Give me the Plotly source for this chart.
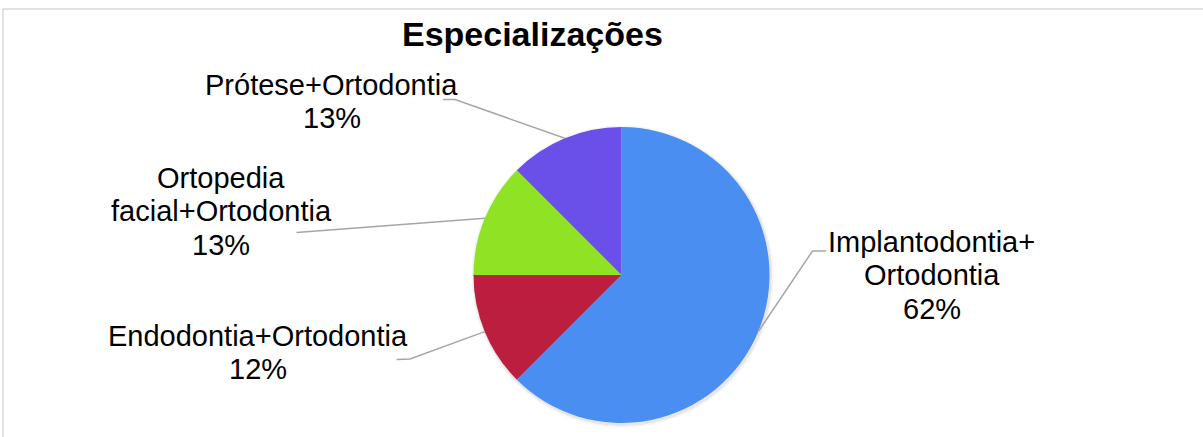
import math
import plotly.graph_objects as go

# ---- data ----
categories = ["Implantodontia+Ortodontia", "Endodontia+Ortodontia",
              "Ortopedia facial+Ortodontia", "Prótese+Ortodontia"]
values = [62.5, 12.5, 12.5, 12.5]
pct_labels = ["62%", "12%", "13%", "13%"]
label_lines = [["Implantodontia+", "Ortodontia"],
               ["Endodontia+Ortodontia"],
               ["Ortopedia", "facial+Ortodontia"],
               ["Prótese+Ortodontia"]]
colors = ["#4A8EF2", "#BC1E3F", "#8FE324", "#6A4FE8"]
title_text = "Especializações"

# ---- layout constants (pixels) ----
W, H = 1203, 437
CX, CY, R = 621.5, 275.0, 148.0
FONT = "Liberation Sans, Arial, sans-serif"
FS = 29
LINE_H = 33.5
# label block: center x, baseline of first line; leader: label end point, elbow point
label_pos = [
    dict(cx=931.5, base=252, end=(826, 251), elbow=(812.5, 251)),
    dict(cx=258, base=346, end=(396.5, 359.5), elbow=(410, 359)),
    dict(cx=221, base=188, end=(296.5, 232.5), elbow=None),
    dict(cx=331.5, base=95, end=(443, 99.5), elbow=(455, 99.5)),
]


def px(x):
    return x / W


def py(y):
    return 1 - y / H


fig = go.Figure()
fig.add_trace(go.Pie(
    labels=categories, values=values, sort=False, direction="clockwise",
    rotation=0, textinfo="none", hoverinfo="label+percent",
    marker=dict(colors=colors, line=dict(width=0)),
    domain=dict(x=[px(CX - R), px(CX + R)], y=[py(CY + R), py(CY - R)]),
    showlegend=False,
))

shapes = []
annotations = []

# frame
shapes.append(dict(type="line", xref="paper", yref="paper", x0=px(3), x1=px(W + 5),
                   y0=py(9), y1=py(9), line=dict(color="#D9D9D9", width=1.5)))
shapes.append(dict(type="line", xref="paper", yref="paper", x0=px(3), x1=px(3),
                   y0=py(9), y1=py(H + 5), line=dict(color="#D9D9D9", width=1.5)))
# soft shadow
for dr, op in [(3, 0.04), (1.5, 0.06)]:
    shapes.append(dict(type="circle", xref="paper", yref="paper", layer="below",
                       x0=px(CX - R - dr + 1), x1=px(CX + R + dr + 1),
                       y0=py(CY + R + dr + 1.5), y1=py(CY - R - dr + 1.5),
                       fillcolor=f"rgba(0,0,0,{op})", line=dict(width=0)))

# leader lines + labels, anchored at slice mid-angles
total = sum(values)
cum = 0.0
for i, v in enumerate(values):
    mid = (cum + v / 2) / total * 2 * math.pi
    cum += v
    ex = CX + R * math.sin(mid)
    ey = CY - R * math.cos(mid)
    lp = label_pos[i]
    pts = [lp["end"]]
    if lp["elbow"]:
        pts.append(lp["elbow"])
    pts.append((ex, ey))
    path = "M " + " L ".join(f"{px(a):.5f},{py(b):.5f}" for a, b in pts)
    shapes.append(dict(type="path", xref="paper", yref="paper", path=path,
                       line=dict(color="#A6A6A6", width=1.5)))
    lines = label_lines[i] + [pct_labels[i]]
    for k, t in enumerate(lines):
        base = lp["base"] + k * LINE_H
        annotations.append(dict(
            text=t, xref="paper", yref="paper", x=px(lp["cx"]),
            y=py(base - 0.35 * FS), xanchor="center", yanchor="middle",
            showarrow=False, font=dict(family=FONT, size=FS, color="#000000")))

# title
annotations.append(dict(text=f"<b>{title_text}</b>", xref="paper", yref="paper",
                        x=px(532), y=py(46 - 0.35 * 34), xanchor="center", yanchor="middle",
                        showarrow=False,
                        font=dict(family=FONT, size=34, color="#000000")))

fig.update_layout(
    width=W, height=H, margin=dict(l=0, r=0, t=0, b=0),
    paper_bgcolor="white", plot_bgcolor="white",
    shapes=shapes, annotations=annotations,
)
fig.write_html("out.html")
